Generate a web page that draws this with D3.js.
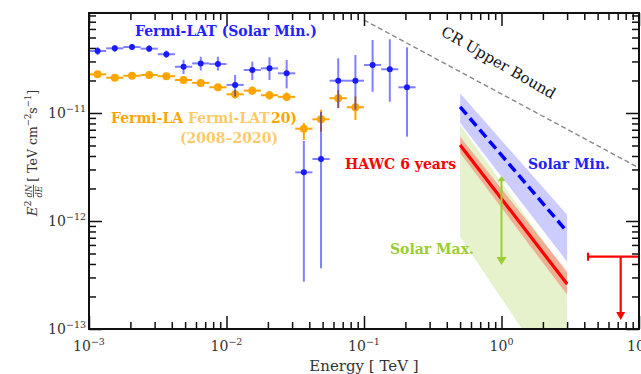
<!DOCTYPE html>
<html>
<head>
<meta charset="utf-8">
<script src="https://cdn.jsdelivr.net/npm/d3@7"></script>
<style>
html, body { margin: 0; padding: 0; background: #fff; }
svg { display: block; }
text { font-family: "DejaVu Serif", "Liberation Serif", serif; }
</style>
</head>
<body>
<svg id="chart" width="641" height="374"></svg>
<script>
// ---- data (energies in TeV, fluxes in TeV cm^-2 s^-1) ----
var binEdges = [1.000e-3, 1.334e-3, 1.778e-3, 2.371e-3, 3.162e-3, 4.217e-3, 5.623e-3, 7.499e-3,
                1.000e-2, 1.334e-2, 1.778e-2, 2.371e-2, 3.162e-2, 4.217e-2, 5.623e-2, 7.499e-2,
                0.1000, 0.1334, 0.1778, 0.2371];
var binCenters = [1.155e-3, 1.540e-3, 2.054e-3, 2.738e-3, 3.652e-3, 4.870e-3, 6.494e-3, 8.660e-3,
                  1.155e-2, 1.540e-2, 2.054e-2, 2.738e-2, 3.652e-2, 4.870e-2, 6.494e-2, 8.660e-2,
                  0.1155, 0.1540, 0.2054];

// Fermi-LAT, solar minimum
var fermiMinFlux = [3.75e-11, 3.97e-11, 4.08e-11, 3.94e-11, 3.50e-11, 2.68e-11, 2.88e-11, 2.84e-11,
                    1.82e-11, 2.50e-11, 2.59e-11, 2.33e-11, 2.82e-12, 3.75e-12, 1.99e-11, 1.99e-11,
                    2.78e-11, 2.54e-11, 1.73e-11];
var fermiMinHi   = [4.08e-11, 4.26e-11, 4.36e-11, 4.26e-11, 3.79e-11, 3.10e-11, 3.32e-11, 3.32e-11,
                    2.25e-11, 2.99e-11, 3.28e-11, 3.10e-11, 5.51e-12, 1.02e-11, 3.21e-11, 3.44e-11,
                    4.74e-11, 4.81e-11, 4.06e-11];
var fermiMinLo   = [3.44e-11, 3.67e-11, 3.83e-11, 3.67e-11, 3.23e-11, 2.30e-11, 2.47e-11, 2.47e-11,
                    1.42e-11, 2.02e-11, 2.02e-11, 1.69e-11, 2.74e-13, 3.65e-13, 1.11e-11, 1.07e-11,
                    1.57e-11, 1.27e-11, 6.04e-12];

// Fermi-LAT, 2008-2020
var fermiAllFlux = [2.28e-11, 2.12e-11, 2.21e-11, 2.25e-11, 2.19e-11, 2.02e-11, 1.90e-11, 1.73e-11,
                    1.49e-11, 1.61e-11, 1.46e-11, 1.41e-11, 7.16e-12, 8.74e-12, 1.37e-11, 1.13e-11];
var fermiAllHi   = [2.44e-11, 2.27e-11, 2.37e-11, 2.41e-11, 2.35e-11, 2.17e-11, 2.04e-11, 1.86e-11,
                    1.63e-11, 1.76e-11, 1.60e-11, 1.55e-11, 8.08e-12, 1.07e-11, 1.63e-11, 1.42e-11];
var fermiAllLo   = [2.13e-11, 1.98e-11, 2.07e-11, 2.10e-11, 2.05e-11, 1.88e-11, 1.77e-11, 1.61e-11,
                    1.36e-11, 1.47e-11, 1.33e-11, 1.29e-11, 5.62e-12, 6.71e-12, 1.11e-11, 8.61e-12];

// HAWC 6 years (band end points)
var hawcE        = [0.5, 3.0];
var hawcMinFlux  = [1.14e-11, 7.96e-13];
var hawcMinHi    = [1.52e-11, 1.14e-12];
var hawcMinLo    = [8.08e-12, 4.20e-13];
var hawcAllFlux  = [5.05e-12, 2.61e-13];
var hawcAllHi    = [6.04e-12, 3.40e-13];
var hawcAllLo    = [4.27e-12, 2.07e-13];
var hawcMaxHi    = [7.74e-12, 3.23e-13];
var hawcMaxLo    = [7.11e-13, 2.40e-14];

// solar max arrow, upper limit, CR bound
var maxArrowE    = 1.0;
var maxArrowFlux = [2.57e-12, 3.92e-13];
var ulE          = 7.36;
var ulRange      = [4.26, 12.7];
var ulFlux       = [4.67e-13, 1.21e-13];
var crE          = [0.1, 10];
var crFlux       = [7.26e-11, 3.10e-12];

// axes
var xMajor  = [1e-3, 1e-2, 1e-1, 1e0, 1e1];
var xLabels = ['\u22123', '\u22122', '\u22121', '0', '1'];
var yMajor  = [1e-13, 1e-12, 1e-11];
var yLabels = ['\u221213', '\u221212', '\u221211'];
var yTop    = 8.43e-11;

// ---- drawing ----
var svg = d3.select('#chart');
var margin = {top: 13, right: 2, bottom: 45, left: 89},
    width  = +svg.attr('width')  - margin.left - margin.right,
    height = +svg.attr('height') - margin.top  - margin.bottom;

var g = svg.append('g')
           .attr('transform', 'translate(' + margin.left + ',' + margin.top + ')');

var x = d3.scaleLog().domain([1e-3, 1e1]).range([0, width]),
    y = d3.scaleLog().domain([1e-13, yTop]).range([height, 0]);

svg.append('defs').append('clipPath').attr('id', 'plot')
   .append('rect').attr('width', width).attr('height', height);

/* 2..9 x each decade */
var minors = function (majors) {
    var out = [];
    for (var i = 0; i < majors.length - 1; i++) {
        for (var k = 2; k <= 9; k++) { out.push(k * majors[i]); }
    }
    return out;
};

var rows = function (lo, hi) {
    return hawcE.map(function (e, i) { return {e: e, lo: lo[i], hi: hi[i]}; });
};

var band = d3.area()
             .x(function (d) { return x(d.e); })
             .y0(function (d) { return y(d.lo); })
             .y1(function (d) { return y(d.hi); });
var line = d3.line()
             .x(function (d) { return x(d[0]); })
             .y(function (d) { return y(d[1]); });

var plot = g.append('g').attr('clip-path', 'url(#plot)');

// HAWC bands
plot.append('path').datum(rows(hawcMaxLo, hawcMaxHi))
    .attr('d', band).attr('fill', '#9acd32').attr('fill-opacity', 0.25);
plot.append('path').datum(rows(hawcMinLo, hawcMinHi))
    .attr('d', band).attr('fill', '#0000ff').attr('fill-opacity', 0.2);
plot.append('path').datum(rows(hawcAllLo, hawcAllHi))
    .attr('d', band).attr('fill', '#ff0000').attr('fill-opacity', 0.27);

plot.append('path').datum(d3.zip(hawcE, hawcMinFlux))
    .attr('d', line).attr('fill', 'none').attr('stroke', '#0000ff')
    .attr('stroke-width', 3.5).attr('stroke-dasharray', '10,5');
plot.append('path').datum(d3.zip(hawcE, hawcAllFlux))
    .attr('d', line).attr('fill', 'none').attr('stroke', '#ff0000')
    .attr('stroke-width', 3.2);

// CR upper bound
plot.append('path').datum(d3.zip(crE, crFlux))
    .attr('d', line).attr('fill', 'none').attr('stroke', '#888')
    .attr('stroke-width', 1.4).attr('stroke-dasharray', '5,3');

// Fermi-LAT 2008-2020 (orange)
var orange = plot.append('g').attr('stroke', '#ffa500').attr('stroke-width', 2);
fermiAllFlux.forEach(function (v, i) {
    orange.append('line')
          .attr('x1', x(binEdges[i])).attr('x2', x(binEdges[i + 1]))
          .attr('y1', y(v)).attr('y2', y(v));
    orange.append('line')
          .attr('x1', x(binCenters[i])).attr('x2', x(binCenters[i]))
          .attr('y1', y(fermiAllLo[i])).attr('y2', y(fermiAllHi[i]));
});
plot.append('g').selectAll('circle')
    .data(fermiAllFlux)
    .enter().append('circle')
      .attr('cx', function (d, i) { return x(binCenters[i]); })
      .attr('cy', function (d) { return y(d); })
      .attr('r', 4)
      .attr('fill', '#ffa500');

// Fermi-LAT solar min (blue)
var blue = plot.append('g').attr('stroke', '#0000ff').attr('stroke-opacity', 0.5).attr('stroke-width', 2);
fermiMinFlux.forEach(function (v, i) {
    blue.append('line')
        .attr('x1', x(binEdges[i])).attr('x2', x(binEdges[i + 1]))
        .attr('y1', y(v)).attr('y2', y(v));
    blue.append('line')
        .attr('x1', x(binCenters[i])).attr('x2', x(binCenters[i]))
        .attr('y1', y(fermiMinLo[i])).attr('y2', y(fermiMinHi[i]));
});
plot.append('g').selectAll('circle')
    .data(fermiMinFlux)
    .enter().append('circle')
      .attr('cx', function (d, i) { return x(binCenters[i]); })
      .attr('cy', function (d) { return y(d); })
      .attr('r', 3)
      .attr('fill', '#1a1aff');

// solar max arrow (green)
var ax = x(maxArrowE), ay0 = y(maxArrowFlux[0]), ay1 = y(maxArrowFlux[1]);
plot.append('line').attr('x1', ax).attr('x2', ax).attr('y1', ay0 + 2).attr('y2', ay1 - 6)
    .attr('stroke', '#9acd32').attr('stroke-width', 2);
plot.append('path').attr('d', 'M' + (ax - 3) + ',' + (ay0 + 4) + 'L' + ax + ',' + ay0 + 'L' + (ax + 3) + ',' + (ay0 + 4) + 'Z')
    .attr('fill', '#9acd32').attr('stroke', '#9acd32').attr('stroke-width', 1);
plot.append('path').attr('d', 'M' + (ax - 5) + ',' + (ay1 - 8) + 'L' + ax + ',' + ay1 + 'L' + (ax + 5) + ',' + (ay1 - 8) + 'Z')
    .attr('fill', '#9acd32');

// HAWC upper limit (red)
var ux = x(ulE), uy = y(ulFlux[0]), uy1 = y(ulFlux[1]);
var ul = plot.append('g').attr('stroke', '#ff0000').attr('stroke-width', 2.2).attr('fill', 'none');
ul.append('line').attr('x1', x(ulRange[0])).attr('x2', x(ulRange[1])).attr('y1', uy).attr('y2', uy);
ul.append('line').attr('x1', x(ulRange[0])).attr('x2', x(ulRange[0])).attr('y1', uy - 4).attr('y2', uy + 4);
ul.append('line').attr('x1', ux).attr('x2', ux).attr('y1', uy).attr('y2', uy1 - 6);
plot.append('path').attr('d', 'M' + (ux - 4.5) + ',' + (uy1 - 8) + 'L' + ux + ',' + uy1 + 'L' + (ux + 4.5) + ',' + (uy1 - 8) + 'Z')
    .attr('fill', '#ff0000');

// ---- axes (ticks on all four sides, pointing in) ----
var ticks = function (axis, values, size) {
    return axis.tickValues(values).tickSizeInner(-size).tickSizeOuter(0).tickFormat('');
};
var xMinor = minors(xMajor);
var yMinor = minors(yMajor.concat([1e-10])).filter(function (v) { return v <= yTop; });

var bottomT = 'translate(0,' + height + ')',
    rightT  = 'translate(' + width + ',0)';
g.append('g').attr('transform', bottomT).call(ticks(d3.axisBottom(x), xMajor, 13));
g.append('g').attr('transform', bottomT).call(ticks(d3.axisBottom(x), xMinor, 7));
g.append('g').call(ticks(d3.axisTop(x), xMajor, 13));
g.append('g').call(ticks(d3.axisTop(x), xMinor, 7));
g.append('g').call(ticks(d3.axisLeft(y), yMajor, 13));
g.append('g').call(ticks(d3.axisLeft(y), yMinor, 7));
g.append('g').attr('transform', rightT).call(ticks(d3.axisRight(y), yMajor, 13));
g.append('g').attr('transform', rightT).call(ticks(d3.axisRight(y), yMinor, 7));
g.selectAll('.domain').remove();
g.selectAll('.tick line').attr('stroke', '#111').attr('stroke-width', 1.5);

g.append('rect').attr('width', width).attr('height', height)
 .attr('fill', 'none').attr('stroke', '#111').attr('stroke-width', 2);

// tick labels
xMajor.forEach(function (v, i) {
    var t = g.append('text').attr('x', x(v)).attr('y', height + 22)
             .attr('text-anchor', 'middle').attr('font-size', 14).attr('fill', '#333');
    t.append('tspan').text('10');
    t.append('tspan').attr('dy', -6).attr('font-size', 9.5).text(xLabels[i]);
});
yMajor.forEach(function (v, i) {
    var t = g.append('text').attr('x', -3).attr('y', y(v) + 5)
             .attr('text-anchor', 'end').attr('font-size', 14).attr('fill', '#333');
    t.append('tspan').text('10');
    t.append('tspan').attr('dy', -6).attr('font-size', 9.5).text(yLabels[i]);
});

// axis titles
svg.append('text').attr('x', margin.left + width / 2).attr('y', 371)
   .attr('text-anchor', 'middle').attr('font-size', 15).attr('fill', '#333')
   .text('Energy [ TeV ]');

var yl = svg.append('g').attr('fill', '#333');
var cx = 0;
var piece = function (txt, size, dy, italic) {
    var t = yl.append('text').attr('x', cx).attr('y', dy).attr('font-size', size).text(txt);
    if (italic) { t.attr('font-style', 'italic'); }
    cx += t.node().getComputedTextLength();
    return t;
};
piece('E', 13.5, 0, true);
piece('2', 9, -6, false);
cx += 3;
var f0 = cx;
var n1 = yl.append('text').attr('x', f0).attr('y', -5).attr('font-size', 8.5).attr('font-style', 'italic').text('dN');
var n2 = yl.append('text').attr('x', f0).attr('y', 5).attr('font-size', 8.5).attr('font-style', 'italic').text('dE');
var fw = Math.max(n1.node().getComputedTextLength(), n2.node().getComputedTextLength());
yl.append('line').attr('x1', f0).attr('x2', f0 + fw).attr('y1', -3.5).attr('y2', -3.5)
  .attr('stroke', '#333').attr('stroke-width', 0.8);
cx += fw + 3;
piece('[ TeV cm', 12.5, 0, false);
piece('\u22122', 8.5, -6, false);
piece(' s', 12.5, 0, false);
piece('\u22121', 8.5, -6, false);
piece(' ]', 12.5, 0, false);
yl.attr('transform', 'translate(37,' + (153 + cx / 2) + ') rotate(-90)');

// annotations
var note = function (txt, px, py, color, size, anchor) {
    return svg.append('text').attr('x', px).attr('y', py)
              .attr('text-anchor', anchor || 'start')
              .attr('font-size', size).attr('font-weight', 'bold')
              .attr('fill', color).text(txt);
};
note('Fermi-LAT (Solar Min.)', 135, 36, '#2222ff', 14);
note('Fermi-LA', 111, 123, '#ffa500', 14);
note('Fermi-LAT', 188, 123, '#ffa500', 14).attr('fill-opacity', 0.6);
note('20)', 297, 123, '#ffa500', 14, 'end');
note('(2008\u20132020)', 229, 143, '#ffa500', 14, 'middle').attr('fill-opacity', 0.6);
note('HAWC 6 years', 345, 169, '#ff0000', 14);
note('Solar Min.', 528, 169, '#2222ff', 14);
note('Solar Max.', 390, 254, '#9acd32', 14);

svg.append('text').attr('transform', 'translate(496,67) rotate(30)')
   .attr('text-anchor', 'middle').attr('font-size', 15).attr('fill', '#111')
   .text('CR Upper Bound');
</script>
</body>
</html>
